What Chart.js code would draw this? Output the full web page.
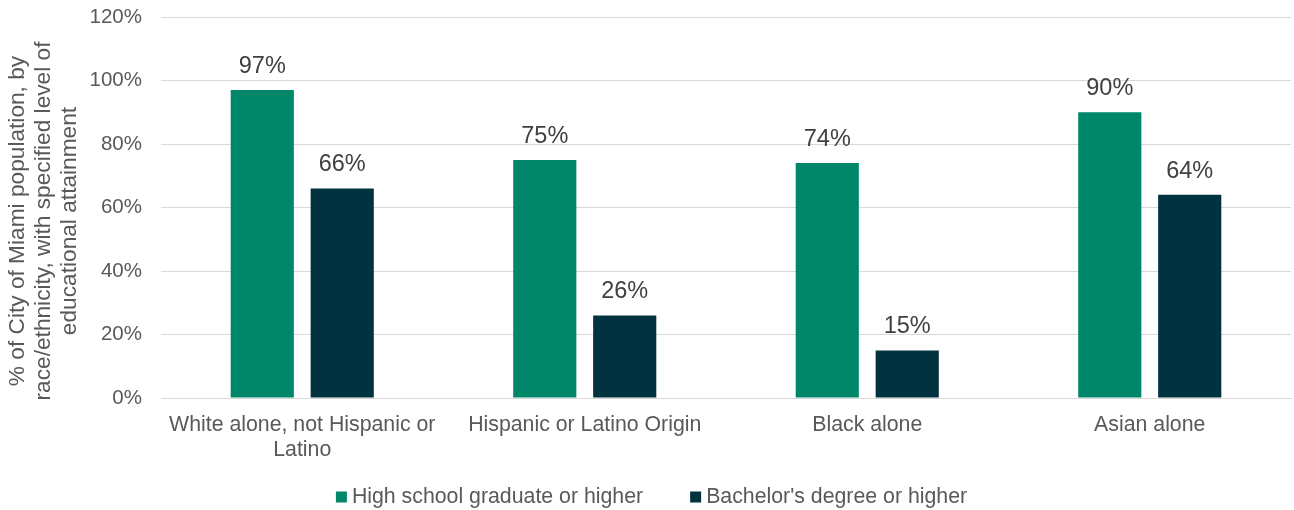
<!DOCTYPE html>
<html>
<head>
<meta charset="utf-8">
<script src="https://cdn.jsdelivr.net/npm/chart.js@4"></script>
<style>
  html, body { margin: 0; padding: 0; background: #fff; }
  #wrap { width: 1294px; height: 510px; }
</style>
</head>
<body>
<div id="wrap"><canvas id="grafico" width="1294" height="510"></canvas></div>
<script>
// Datos
var categorias = [["White alone, not Hispanic or", "Latino"], "Hispanic or Latino Origin", "Black alone", "Asian alone"];
var serie_bachillerato = [97, 75, 74, 90];
var serie_licenciatura = [66, 26, 15, 64];
var nombres_series = ["High school graduate or higher", "Bachelor's degree or higher"];
var marcas_eje_y = [0, 20, 40, 60, 80, 100, 120];
var titulo_eje_y = ["% of City of Miami population, by", "race/ethnicity, with specified level of", "educational attainment"];

var fuente = "'Liberation Sans', Arial, sans-serif";
var gris_texto = "#595959";

// Etiquetas de valor encima de cada barra
var etiquetas_valor = {
    id: 'etiquetasValor',
    afterDatasetsDraw: function(chart) {
        var ctx = chart.ctx;
        ctx.save();
        ctx.font = "23.5px " + fuente;
        ctx.fillStyle = "#404040";
        ctx.textAlign = "center";
        ctx.textBaseline = "alphabetic";
        chart.data.datasets.forEach(function(ds, i) {
            chart.getDatasetMeta(i).data.forEach(function(barra, j) {
                ctx.fillText(ds.data[j] + "%", barra.x, barra.y - 17);
            });
        });
        ctx.restore();
    }
};

// Título del eje Y (girado, algo por debajo del centro como en el original)
var titulo_y = {
    id: 'tituloY',
    afterDraw: function(chart) {
        var ctx = chart.ctx;
        ctx.save();
        ctx.font = "22.7px " + fuente;
        ctx.fillStyle = gris_texto;
        ctx.textAlign = "center";
        ctx.textBaseline = "middle";
        titulo_eje_y.forEach(function(linea, i) {
            ctx.save();
            ctx.translate(18 + 26 * i, 221);
            ctx.rotate(-Math.PI / 2);
            ctx.fillText(linea, 0, 0);
            ctx.restore();
        });
        ctx.restore();
    }
};

// Leyenda inferior: cuadrito pequeño pegado al texto, con hueco amplio entre series
var leyenda = {
    id: 'leyendaAbajo',
    afterDraw: function(chart) {
        var ctx = chart.ctx;
        var caja = 11, hueco_texto = 5, hueco_items = 47, y = 497;
        ctx.save();
        ctx.font = "21.3px " + fuente;
        ctx.textBaseline = "middle";
        ctx.textAlign = "left";
        var anchos = chart.data.datasets.map(function(ds) {
            return caja + hueco_texto + ctx.measureText(ds.label).width;
        });
        var total = anchos.reduce(function(a, b) { return a + b; }, 0) + hueco_items * (anchos.length - 1);
        var x = 651.5 - total / 2;
        chart.data.datasets.forEach(function(ds, i) {
            ctx.fillStyle = ds.backgroundColor;
            ctx.fillRect(x, y - caja / 2, caja, caja);
            ctx.fillStyle = gris_texto;
            ctx.fillText(ds.label, x + caja + hueco_texto, y);
            x += anchos[i] + hueco_items;
        });
        ctx.restore();
    }
};

var contexto = document.getElementById('grafico').getContext('2d');
var miGrafico = new Chart(contexto, {
    type: 'bar',
    data: {
        labels: categorias,
        datasets: [{
            label: nombres_series[0],
            data: serie_bachillerato,
            backgroundColor: '#00876A',
            categoryPercentage: 0.566,
            barPercentage: 0.79
        }, {
            label: nombres_series[1],
            data: serie_licenciatura,
            backgroundColor: '#00333F',
            categoryPercentage: 0.566,
            barPercentage: 0.79
        }]
    },
    options: {
        responsive: false,
        animation: false,
        devicePixelRatio: 1,
        layout: { padding: { top: 17, right: 3, left: 12, bottom: 0 } },
        plugins: {
            tooltip: { enabled: false },
            legend: { display: false }
        },
        scales: {
            x: {
                grid: { display: false, drawTicks: false },
                border: { display: true, color: '#d9d9d9', width: 1 },
                ticks: {
                    color: gris_texto,
                    font: { family: fuente, size: 21.3, lineHeight: 1.17 },
                    padding: 15,
                    maxRotation: 0,
                    autoSkip: false
                },
                afterFit: function(escala) { escala.height = 112; }
            },
            y: {
                min: 0,
                max: 120,
                afterBuildTicks: function(escala) {
                    escala.ticks = marcas_eje_y.map(function(v) { return { value: v }; });
                },
                grid: { color: '#d9d9d9', lineWidth: 1, drawTicks: false },
                border: { display: false },
                ticks: {
                    color: gris_texto,
                    font: { family: fuente, size: 20.5 },
                    padding: 19,
                    callback: function(v) { return v + '%'; }
                },
                afterFit: function(escala) {
                    escala.width = 149;
                    escala.paddingTop = 0;
                    escala.paddingBottom = 0;
                }
            }
        }
    },
    plugins: [etiquetas_valor, titulo_y, leyenda]
});
</script>
</body>
</html>
